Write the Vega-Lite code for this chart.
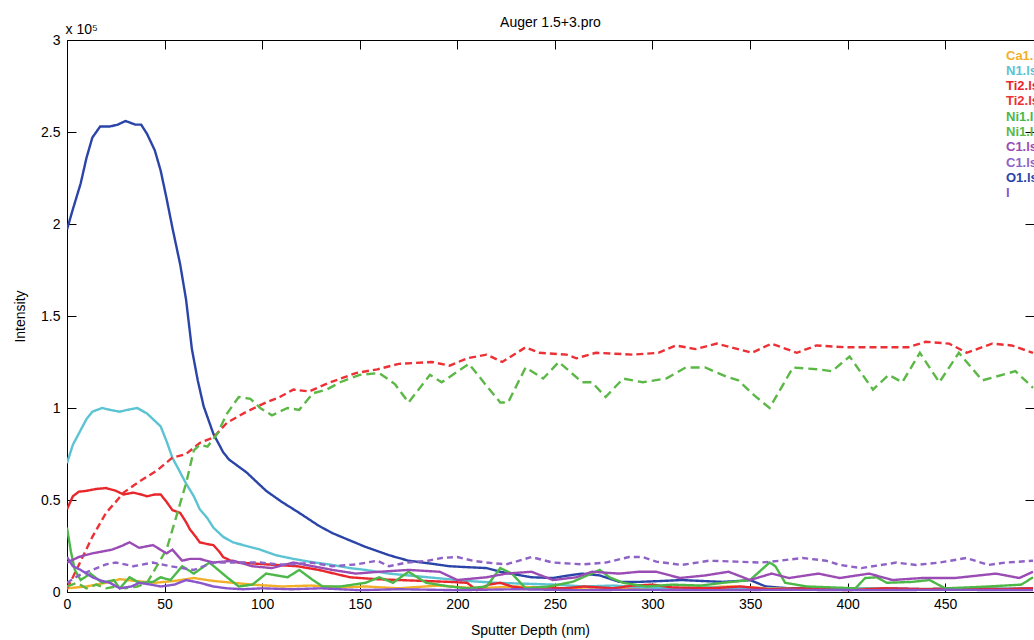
{
  "$schema": "https://vega.github.io/schema/vega-lite/v6.json",
  "autosize": {"type": "none"},
  "padding": {"left": 67, "top": 40, "right": 0, "bottom": 48},
  "width": 967,
  "height": 552,
  "background": "white",
  "config": {
    "font": "Liberation Sans",
    "view": {"stroke": null},
    "axis": {"grid": false, "domainColor": "#000000", "domainWidth": 1, "tickColor": "#000000", "tickWidth": 1, "labelColor": "#000000", "titleColor": "#000000", "labelFont": "Liberation Sans", "titleFont": "Liberation Sans", "labelFontSize": 14, "titleFontSize": 14, "titleFontWeight": "normal"}
  },
  "title": {"text": "Auger 1.5+3.pro", "fontSize": 14, "fontWeight": "normal", "font": "Liberation Sans", "color": "#000000", "offset": 0, "dy": 8, "anchor": "middle"},
  "data": {"values": [
    {"series":"O1.ls1","depth":0,"intensity":197000},{"series":"O1.ls1","depth":3,"intensity":208000},{"series":"O1.ls1","depth":7,"intensity":222000},{"series":"O1.ls1","depth":10,"intensity":236000},{"series":"O1.ls1","depth":13,"intensity":247000},{"series":"O1.ls1","depth":17,"intensity":253000},{"series":"O1.ls1","depth":22,"intensity":253000},{"series":"O1.ls1","depth":26,"intensity":254000},{"series":"O1.ls1","depth":30,"intensity":256000},{"series":"O1.ls1","depth":35,"intensity":254000},{"series":"O1.ls1","depth":38,"intensity":254000},{"series":"O1.ls1","depth":41,"intensity":249000},{"series":"O1.ls1","depth":45,"intensity":240000},{"series":"O1.ls1","depth":48,"intensity":229000},{"series":"O1.ls1","depth":51,"intensity":214000},{"series":"O1.ls1","depth":54,"intensity":198000},{"series":"O1.ls1","depth":58,"intensity":178000},{"series":"O1.ls1","depth":61,"intensity":159000},{"series":"O1.ls1","depth":64,"intensity":132000},{"series":"O1.ls1","depth":67,"intensity":115000},{"series":"O1.ls1","depth":70,"intensity":101000},{"series":"O1.ls1","depth":75,"intensity":86000},{"series":"O1.ls1","depth":80,"intensity":76000},{"series":"O1.ls1","depth":83,"intensity":72000},{"series":"O1.ls1","depth":92,"intensity":65000},{"series":"O1.ls1","depth":102,"intensity":55000},{"series":"O1.ls1","depth":110,"intensity":49000},{"series":"O1.ls1","depth":119,"intensity":43000},{"series":"O1.ls1","depth":129,"intensity":36000},{"series":"O1.ls1","depth":136,"intensity":32000},{"series":"O1.ls1","depth":145,"intensity":28000},{"series":"O1.ls1","depth":153,"intensity":24500},{"series":"O1.ls1","depth":165,"intensity":20000},{"series":"O1.ls1","depth":175,"intensity":17000},{"series":"O1.ls1","depth":186,"intensity":15500},{"series":"O1.ls1","depth":196,"intensity":14000},{"series":"O1.ls1","depth":205,"intensity":13500},{"series":"O1.ls1","depth":215,"intensity":13000},{"series":"O1.ls1","depth":222,"intensity":11000},{"series":"O1.ls1","depth":230,"intensity":9500},{"series":"O1.ls1","depth":238,"intensity":8000},{"series":"O1.ls1","depth":249,"intensity":7600},{"series":"O1.ls1","depth":257,"intensity":9000},{"series":"O1.ls1","depth":264,"intensity":10000},{"series":"O1.ls1","depth":273,"intensity":9000},{"series":"O1.ls1","depth":283,"intensity":5500},{"series":"O1.ls1","depth":293,"intensity":5500},{"series":"O1.ls1","depth":305,"intensity":6000},{"series":"O1.ls1","depth":315,"intensity":6500},{"series":"O1.ls1","depth":325,"intensity":6000},{"series":"O1.ls1","depth":336,"intensity":5500},{"series":"O1.ls1","depth":344,"intensity":6000},{"series":"O1.ls1","depth":350,"intensity":6500},{"series":"O1.ls1","depth":358,"intensity":3000},{"series":"O1.ls1","depth":370,"intensity":2000},{"series":"O1.ls1","depth":385,"intensity":2000},{"series":"O1.ls1","depth":400,"intensity":1800},{"series":"O1.ls1","depth":420,"intensity":2000},{"series":"O1.ls1","depth":440,"intensity":1500},{"series":"O1.ls1","depth":460,"intensity":2000},{"series":"O1.ls1","depth":480,"intensity":1800},{"series":"O1.ls1","depth":495,"intensity":2000},

    {"series":"Ca1.ls1","depth":0,"intensity":2000},{"series":"Ca1.ls1","depth":10,"intensity":3000},{"series":"Ca1.ls1","depth":20,"intensity":5000},{"series":"Ca1.ls1","depth":27,"intensity":7000},{"series":"Ca1.ls1","depth":35,"intensity":6000},{"series":"Ca1.ls1","depth":45,"intensity":5000},{"series":"Ca1.ls1","depth":55,"intensity":6000},{"series":"Ca1.ls1","depth":65,"intensity":7600},{"series":"Ca1.ls1","depth":75,"intensity":6000},{"series":"Ca1.ls1","depth":85,"intensity":5000},{"series":"Ca1.ls1","depth":95,"intensity":4000},{"series":"Ca1.ls1","depth":110,"intensity":3000},{"series":"Ca1.ls1","depth":125,"intensity":3500},{"series":"Ca1.ls1","depth":140,"intensity":2500},{"series":"Ca1.ls1","depth":153,"intensity":3000},{"series":"Ca1.ls1","depth":170,"intensity":2000},{"series":"Ca1.ls1","depth":190,"intensity":3500},{"series":"Ca1.ls1","depth":210,"intensity":2000},{"series":"Ca1.ls1","depth":230,"intensity":3000},{"series":"Ca1.ls1","depth":250,"intensity":2000},{"series":"Ca1.ls1","depth":270,"intensity":2500},{"series":"Ca1.ls1","depth":290,"intensity":1500},{"series":"Ca1.ls1","depth":310,"intensity":2000},{"series":"Ca1.ls1","depth":340,"intensity":3000},{"series":"Ca1.ls1","depth":360,"intensity":2000},{"series":"Ca1.ls1","depth":380,"intensity":1500},{"series":"Ca1.ls1","depth":400,"intensity":2000},{"series":"Ca1.ls1","depth":430,"intensity":1500},{"series":"Ca1.ls1","depth":460,"intensity":2000},{"series":"Ca1.ls1","depth":495,"intensity":1500},

    {"series":"N1.ls1","depth":0,"intensity":70000},{"series":"N1.ls1","depth":3,"intensity":80000},{"series":"N1.ls1","depth":7,"intensity":88000},{"series":"N1.ls1","depth":10,"intensity":94000},{"series":"N1.ls1","depth":13,"intensity":98000},{"series":"N1.ls1","depth":18,"intensity":100000},{"series":"N1.ls1","depth":22,"intensity":99000},{"series":"N1.ls1","depth":27,"intensity":98000},{"series":"N1.ls1","depth":31,"intensity":99000},{"series":"N1.ls1","depth":36,"intensity":100000},{"series":"N1.ls1","depth":41,"intensity":97000},{"series":"N1.ls1","depth":45,"intensity":93000},{"series":"N1.ls1","depth":48,"intensity":90000},{"series":"N1.ls1","depth":51,"intensity":82000},{"series":"N1.ls1","depth":54,"intensity":73000},{"series":"N1.ls1","depth":58,"intensity":65000},{"series":"N1.ls1","depth":61,"intensity":59000},{"series":"N1.ls1","depth":65,"intensity":52000},{"series":"N1.ls1","depth":68,"intensity":45000},{"series":"N1.ls1","depth":72,"intensity":40000},{"series":"N1.ls1","depth":75,"intensity":35000},{"series":"N1.ls1","depth":80,"intensity":30000},{"series":"N1.ls1","depth":85,"intensity":27000},{"series":"N1.ls1","depth":92,"intensity":25000},{"series":"N1.ls1","depth":99,"intensity":23000},{"series":"N1.ls1","depth":107,"intensity":20000},{"series":"N1.ls1","depth":116,"intensity":18000},{"series":"N1.ls1","depth":124,"intensity":16500},{"series":"N1.ls1","depth":136,"intensity":14700},{"series":"N1.ls1","depth":145,"intensity":13000},{"series":"N1.ls1","depth":153,"intensity":12000},{"series":"N1.ls1","depth":165,"intensity":10000},{"series":"N1.ls1","depth":175,"intensity":9000},{"series":"N1.ls1","depth":190,"intensity":7500},{"series":"N1.ls1","depth":205,"intensity":6000},{"series":"N1.ls1","depth":220,"intensity":5000},{"series":"N1.ls1","depth":235,"intensity":4500},{"series":"N1.ls1","depth":250,"intensity":4000},{"series":"N1.ls1","depth":265,"intensity":3000},{"series":"N1.ls1","depth":280,"intensity":3500},{"series":"N1.ls1","depth":295,"intensity":2500},{"series":"N1.ls1","depth":310,"intensity":2000},{"series":"N1.ls1","depth":330,"intensity":2500},{"series":"N1.ls1","depth":350,"intensity":2000},{"series":"N1.ls1","depth":370,"intensity":1500},{"series":"N1.ls1","depth":400,"intensity":2000},{"series":"N1.ls1","depth":430,"intensity":1500},{"series":"N1.ls1","depth":460,"intensity":2000},{"series":"N1.ls1","depth":495,"intensity":1500},

    {"series":"Ti2.ls1","depth":0,"intensity":45000},{"series":"Ti2.ls1","depth":3,"intensity":52000},{"series":"Ti2.ls1","depth":6,"intensity":54500},{"series":"Ti2.ls1","depth":10,"intensity":55000},{"series":"Ti2.ls1","depth":15,"intensity":56000},{"series":"Ti2.ls1","depth":20,"intensity":56500},{"series":"Ti2.ls1","depth":25,"intensity":55000},{"series":"Ti2.ls1","depth":29,"intensity":53000},{"series":"Ti2.ls1","depth":34,"intensity":54000},{"series":"Ti2.ls1","depth":38,"intensity":53000},{"series":"Ti2.ls1","depth":41,"intensity":52000},{"series":"Ti2.ls1","depth":45,"intensity":53000},{"series":"Ti2.ls1","depth":48,"intensity":53000},{"series":"Ti2.ls1","depth":51,"intensity":49000},{"series":"Ti2.ls1","depth":54,"intensity":44500},{"series":"Ti2.ls1","depth":58,"intensity":43000},{"series":"Ti2.ls1","depth":61,"intensity":38000},{"series":"Ti2.ls1","depth":63,"intensity":34000},{"series":"Ti2.ls1","depth":66,"intensity":30000},{"series":"Ti2.ls1","depth":68,"intensity":27000},{"series":"Ti2.ls1","depth":72,"intensity":26000},{"series":"Ti2.ls1","depth":75,"intensity":25500},{"series":"Ti2.ls1","depth":78,"intensity":22000},{"series":"Ti2.ls1","depth":80,"intensity":19000},{"series":"Ti2.ls1","depth":84,"intensity":17000},{"series":"Ti2.ls1","depth":88,"intensity":16000},{"series":"Ti2.ls1","depth":95,"intensity":15500},{"series":"Ti2.ls1","depth":107,"intensity":14700},{"series":"Ti2.ls1","depth":118,"intensity":14000},{"series":"Ti2.ls1","depth":129,"intensity":12000},{"series":"Ti2.ls1","depth":137,"intensity":10000},{"series":"Ti2.ls1","depth":145,"intensity":8000},{"series":"Ti2.ls1","depth":158,"intensity":7000},{"series":"Ti2.ls1","depth":170,"intensity":6500},{"series":"Ti2.ls1","depth":183,"intensity":6000},{"series":"Ti2.ls1","depth":196,"intensity":5500},{"series":"Ti2.ls1","depth":205,"intensity":5000},{"series":"Ti2.ls1","depth":210,"intensity":1000},{"series":"Ti2.ls1","depth":216,"intensity":4000},{"series":"Ti2.ls1","depth":222,"intensity":5000},{"series":"Ti2.ls1","depth":228,"intensity":3000},{"series":"Ti2.ls1","depth":235,"intensity":2000},{"series":"Ti2.ls1","depth":245,"intensity":2500},{"series":"Ti2.ls1","depth":255,"intensity":2000},{"series":"Ti2.ls1","depth":265,"intensity":3000},{"series":"Ti2.ls1","depth":280,"intensity":2000},{"series":"Ti2.ls1","depth":290,"intensity":3500},{"series":"Ti2.ls1","depth":300,"intensity":4000},{"series":"Ti2.ls1","depth":310,"intensity":2500},{"series":"Ti2.ls1","depth":330,"intensity":2000},{"series":"Ti2.ls1","depth":345,"intensity":3000},{"series":"Ti2.ls1","depth":360,"intensity":1500},{"series":"Ti2.ls1","depth":380,"intensity":2000},{"series":"Ti2.ls1","depth":400,"intensity":1000},{"series":"Ti2.ls1","depth":420,"intensity":2000},{"series":"Ti2.ls1","depth":440,"intensity":1500},{"series":"Ti2.ls1","depth":460,"intensity":2000},{"series":"Ti2.ls1","depth":480,"intensity":1500},{"series":"Ti2.ls1","depth":495,"intensity":2000},

    {"series":"Ti2.ls2","depth":0,"intensity":2000},{"series":"Ti2.ls2","depth":3,"intensity":8000},{"series":"Ti2.ls2","depth":8,"intensity":19000},{"series":"Ti2.ls2","depth":13,"intensity":30000},{"series":"Ti2.ls2","depth":20,"intensity":43000},{"series":"Ti2.ls2","depth":25,"intensity":49000},{"series":"Ti2.ls2","depth":29,"intensity":54000},{"series":"Ti2.ls2","depth":37,"intensity":60000},{"series":"Ti2.ls2","depth":46,"intensity":66000},{"series":"Ti2.ls2","depth":54,"intensity":73000},{"series":"Ti2.ls2","depth":61,"intensity":75000},{"series":"Ti2.ls2","depth":68,"intensity":81000},{"series":"Ti2.ls2","depth":75,"intensity":84000},{"series":"Ti2.ls2","depth":82,"intensity":92000},{"series":"Ti2.ls2","depth":92,"intensity":98000},{"series":"Ti2.ls2","depth":102,"intensity":103000},{"series":"Ti2.ls2","depth":109,"intensity":106000},{"series":"Ti2.ls2","depth":116,"intensity":110000},{"series":"Ti2.ls2","depth":124,"intensity":109000},{"series":"Ti2.ls2","depth":135,"intensity":114000},{"series":"Ti2.ls2","depth":148,"intensity":119000},{"series":"Ti2.ls2","depth":159,"intensity":121000},{"series":"Ti2.ls2","depth":170,"intensity":124000},{"series":"Ti2.ls2","depth":187,"intensity":125000},{"series":"Ti2.ls2","depth":196,"intensity":123000},{"series":"Ti2.ls2","depth":205,"intensity":127000},{"series":"Ti2.ls2","depth":215,"intensity":129000},{"series":"Ti2.ls2","depth":223,"intensity":125000},{"series":"Ti2.ls2","depth":235,"intensity":133000},{"series":"Ti2.ls2","depth":242,"intensity":130000},{"series":"Ti2.ls2","depth":256,"intensity":129000},{"series":"Ti2.ls2","depth":261,"intensity":127000},{"series":"Ti2.ls2","depth":271,"intensity":130000},{"series":"Ti2.ls2","depth":290,"intensity":129000},{"series":"Ti2.ls2","depth":303,"intensity":130000},{"series":"Ti2.ls2","depth":312,"intensity":134000},{"series":"Ti2.ls2","depth":322,"intensity":132000},{"series":"Ti2.ls2","depth":333,"intensity":135000},{"series":"Ti2.ls2","depth":351,"intensity":130000},{"series":"Ti2.ls2","depth":361,"intensity":135000},{"series":"Ti2.ls2","depth":374,"intensity":130000},{"series":"Ti2.ls2","depth":384,"intensity":134000},{"series":"Ti2.ls2","depth":399,"intensity":133000},{"series":"Ti2.ls2","depth":415,"intensity":133000},{"series":"Ti2.ls2","depth":431,"intensity":133000},{"series":"Ti2.ls2","depth":440,"intensity":136000},{"series":"Ti2.ls2","depth":452,"intensity":135000},{"series":"Ti2.ls2","depth":461,"intensity":130000},{"series":"Ti2.ls2","depth":474,"intensity":135000},{"series":"Ti2.ls2","depth":484,"intensity":134000},{"series":"Ti2.ls2","depth":495,"intensity":130000},

    {"series":"Ni1.ls1","depth":0,"intensity":35000},{"series":"Ni1.ls1","depth":2,"intensity":22000},{"series":"Ni1.ls1","depth":4,"intensity":12000},{"series":"Ni1.ls1","depth":7,"intensity":6500},{"series":"Ni1.ls1","depth":12,"intensity":10000},{"series":"Ni1.ls1","depth":18,"intensity":5000},{"series":"Ni1.ls1","depth":24,"intensity":6500},{"series":"Ni1.ls1","depth":27,"intensity":2000},{"series":"Ni1.ls1","depth":32,"intensity":8000},{"series":"Ni1.ls1","depth":37,"intensity":5000},{"series":"Ni1.ls1","depth":44,"intensity":5500},{"series":"Ni1.ls1","depth":48,"intensity":8000},{"series":"Ni1.ls1","depth":53,"intensity":6500},{"series":"Ni1.ls1","depth":59,"intensity":14000},{"series":"Ni1.ls1","depth":65,"intensity":10000},{"series":"Ni1.ls1","depth":73,"intensity":16000},{"series":"Ni1.ls1","depth":82,"intensity":8000},{"series":"Ni1.ls1","depth":88,"intensity":3000},{"series":"Ni1.ls1","depth":95,"intensity":4000},{"series":"Ni1.ls1","depth":102,"intensity":10000},{"series":"Ni1.ls1","depth":113,"intensity":8000},{"series":"Ni1.ls1","depth":119,"intensity":12000},{"series":"Ni1.ls1","depth":126,"intensity":6500},{"series":"Ni1.ls1","depth":131,"intensity":3000},{"series":"Ni1.ls1","depth":140,"intensity":3000},{"series":"Ni1.ls1","depth":153,"intensity":5000},{"series":"Ni1.ls1","depth":160,"intensity":8000},{"series":"Ni1.ls1","depth":167,"intensity":5000},{"series":"Ni1.ls1","depth":175,"intensity":11000},{"series":"Ni1.ls1","depth":184,"intensity":5000},{"series":"Ni1.ls1","depth":196,"intensity":3000},{"series":"Ni1.ls1","depth":205,"intensity":2000},{"series":"Ni1.ls1","depth":215,"intensity":3000},{"series":"Ni1.ls1","depth":222,"intensity":13000},{"series":"Ni1.ls1","depth":228,"intensity":10000},{"series":"Ni1.ls1","depth":235,"intensity":2000},{"series":"Ni1.ls1","depth":247,"intensity":3000},{"series":"Ni1.ls1","depth":259,"intensity":5500},{"series":"Ni1.ls1","depth":273,"intensity":12000},{"series":"Ni1.ls1","depth":278,"intensity":8000},{"series":"Ni1.ls1","depth":285,"intensity":5000},{"series":"Ni1.ls1","depth":297,"intensity":3000},{"series":"Ni1.ls1","depth":310,"intensity":4000},{"series":"Ni1.ls1","depth":325,"intensity":3500},{"series":"Ni1.ls1","depth":336,"intensity":5000},{"series":"Ni1.ls1","depth":350,"intensity":6500},{"series":"Ni1.ls1","depth":360,"intensity":16000},{"series":"Ni1.ls1","depth":363,"intensity":14000},{"series":"Ni1.ls1","depth":368,"intensity":5000},{"series":"Ni1.ls1","depth":379,"intensity":3000},{"series":"Ni1.ls1","depth":392,"intensity":2500},{"series":"Ni1.ls1","depth":404,"intensity":2000},{"series":"Ni1.ls1","depth":409,"intensity":7600},{"series":"Ni1.ls1","depth":415,"intensity":8000},{"series":"Ni1.ls1","depth":420,"intensity":5000},{"series":"Ni1.ls1","depth":433,"intensity":5500},{"series":"Ni1.ls1","depth":442,"intensity":6500},{"series":"Ni1.ls1","depth":450,"intensity":2000},{"series":"Ni1.ls1","depth":462,"intensity":2500},{"series":"Ni1.ls1","depth":472,"intensity":3000},{"series":"Ni1.ls1","depth":489,"intensity":4000},{"series":"Ni1.ls1","depth":495,"intensity":8000},

    {"series":"Ni1.ls2","depth":0,"intensity":3000},{"series":"Ni1.ls2","depth":5,"intensity":5000},{"series":"Ni1.ls2","depth":10,"intensity":2000},{"series":"Ni1.ls2","depth":15,"intensity":4000},{"series":"Ni1.ls2","depth":20,"intensity":2000},{"series":"Ni1.ls2","depth":25,"intensity":3000},{"series":"Ni1.ls2","depth":30,"intensity":2000},{"series":"Ni1.ls2","depth":36,"intensity":3000},{"series":"Ni1.ls2","depth":41,"intensity":5000},{"series":"Ni1.ls2","depth":46,"intensity":14000},{"series":"Ni1.ls2","depth":51,"intensity":23000},{"series":"Ni1.ls2","depth":56,"intensity":41000},{"series":"Ni1.ls2","depth":61,"intensity":59000},{"series":"Ni1.ls2","depth":65,"intensity":77000},{"series":"Ni1.ls2","depth":68,"intensity":80000},{"series":"Ni1.ls2","depth":72,"intensity":79000},{"series":"Ni1.ls2","depth":77,"intensity":86000},{"series":"Ni1.ls2","depth":82,"intensity":97000},{"series":"Ni1.ls2","depth":88,"intensity":106000},{"series":"Ni1.ls2","depth":94,"intensity":105000},{"series":"Ni1.ls2","depth":99,"intensity":100000},{"series":"Ni1.ls2","depth":105,"intensity":96000},{"series":"Ni1.ls2","depth":113,"intensity":100000},{"series":"Ni1.ls2","depth":119,"intensity":99000},{"series":"Ni1.ls2","depth":126,"intensity":108000},{"series":"Ni1.ls2","depth":133,"intensity":110000},{"series":"Ni1.ls2","depth":140,"intensity":114000},{"series":"Ni1.ls2","depth":150,"intensity":118000},{"series":"Ni1.ls2","depth":160,"intensity":119000},{"series":"Ni1.ls2","depth":168,"intensity":113000},{"series":"Ni1.ls2","depth":175,"intensity":103000},{"series":"Ni1.ls2","depth":186,"intensity":118000},{"series":"Ni1.ls2","depth":192,"intensity":114000},{"series":"Ni1.ls2","depth":206,"intensity":124000},{"series":"Ni1.ls2","depth":215,"intensity":112000},{"series":"Ni1.ls2","depth":222,"intensity":103000},{"series":"Ni1.ls2","depth":226,"intensity":103000},{"series":"Ni1.ls2","depth":235,"intensity":122000},{"series":"Ni1.ls2","depth":244,"intensity":116000},{"series":"Ni1.ls2","depth":252,"intensity":125000},{"series":"Ni1.ls2","depth":264,"intensity":114000},{"series":"Ni1.ls2","depth":269,"intensity":114000},{"series":"Ni1.ls2","depth":276,"intensity":106000},{"series":"Ni1.ls2","depth":285,"intensity":116000},{"series":"Ni1.ls2","depth":295,"intensity":114000},{"series":"Ni1.ls2","depth":307,"intensity":116000},{"series":"Ni1.ls2","depth":317,"intensity":122000},{"series":"Ni1.ls2","depth":327,"intensity":122000},{"series":"Ni1.ls2","depth":338,"intensity":117000},{"series":"Ni1.ls2","depth":344,"intensity":115000},{"series":"Ni1.ls2","depth":352,"intensity":107000},{"series":"Ni1.ls2","depth":360,"intensity":100000},{"series":"Ni1.ls2","depth":372,"intensity":122000},{"series":"Ni1.ls2","depth":385,"intensity":121000},{"series":"Ni1.ls2","depth":392,"intensity":120000},{"series":"Ni1.ls2","depth":401,"intensity":128000},{"series":"Ni1.ls2","depth":413,"intensity":110000},{"series":"Ni1.ls2","depth":421,"intensity":118000},{"series":"Ni1.ls2","depth":428,"intensity":114000},{"series":"Ni1.ls2","depth":437,"intensity":130000},{"series":"Ni1.ls2","depth":447,"intensity":114000},{"series":"Ni1.ls2","depth":457,"intensity":130000},{"series":"Ni1.ls2","depth":469,"intensity":115000},{"series":"Ni1.ls2","depth":486,"intensity":120000},{"series":"Ni1.ls2","depth":495,"intensity":111000},

    {"series":"C1.ls1","depth":0,"intensity":16000},{"series":"C1.ls1","depth":6,"intensity":19000},{"series":"C1.ls1","depth":13,"intensity":21000},{"series":"C1.ls1","depth":18,"intensity":22000},{"series":"C1.ls1","depth":23,"intensity":23000},{"series":"C1.ls1","depth":28,"intensity":25000},{"series":"C1.ls1","depth":32,"intensity":27000},{"series":"C1.ls1","depth":37,"intensity":24000},{"series":"C1.ls1","depth":44,"intensity":25500},{"series":"C1.ls1","depth":51,"intensity":21000},{"series":"C1.ls1","depth":54,"intensity":23000},{"series":"C1.ls1","depth":59,"intensity":17000},{"series":"C1.ls1","depth":63,"intensity":18000},{"series":"C1.ls1","depth":68,"intensity":18000},{"series":"C1.ls1","depth":75,"intensity":16000},{"series":"C1.ls1","depth":85,"intensity":17000},{"series":"C1.ls1","depth":95,"intensity":14000},{"series":"C1.ls1","depth":105,"intensity":13000},{"series":"C1.ls1","depth":116,"intensity":16000},{"series":"C1.ls1","depth":126,"intensity":14000},{"series":"C1.ls1","depth":136,"intensity":12000},{"series":"C1.ls1","depth":148,"intensity":10000},{"series":"C1.ls1","depth":160,"intensity":11000},{"series":"C1.ls1","depth":175,"intensity":12000},{"series":"C1.ls1","depth":191,"intensity":11000},{"series":"C1.ls1","depth":200,"intensity":6500},{"series":"C1.ls1","depth":215,"intensity":8000},{"series":"C1.ls1","depth":225,"intensity":10000},{"series":"C1.ls1","depth":238,"intensity":11000},{"series":"C1.ls1","depth":249,"intensity":6500},{"series":"C1.ls1","depth":261,"intensity":8000},{"series":"C1.ls1","depth":269,"intensity":11000},{"series":"C1.ls1","depth":283,"intensity":10000},{"series":"C1.ls1","depth":293,"intensity":11000},{"series":"C1.ls1","depth":302,"intensity":11000},{"series":"C1.ls1","depth":314,"intensity":7600},{"series":"C1.ls1","depth":327,"intensity":9000},{"series":"C1.ls1","depth":339,"intensity":11000},{"series":"C1.ls1","depth":350,"intensity":6500},{"series":"C1.ls1","depth":361,"intensity":10000},{"series":"C1.ls1","depth":370,"intensity":7600},{"series":"C1.ls1","depth":385,"intensity":10000},{"series":"C1.ls1","depth":396,"intensity":7600},{"series":"C1.ls1","depth":411,"intensity":10000},{"series":"C1.ls1","depth":423,"intensity":6500},{"series":"C1.ls1","depth":438,"intensity":7600},{"series":"C1.ls1","depth":455,"intensity":7600},{"series":"C1.ls1","depth":476,"intensity":10000},{"series":"C1.ls1","depth":488,"intensity":7600},{"series":"C1.ls1","depth":495,"intensity":11000},

    {"series":"C1.ls2","depth":0,"intensity":5000},{"series":"C1.ls2","depth":6,"intensity":9000},{"series":"C1.ls2","depth":13,"intensity":12000},{"series":"C1.ls2","depth":20,"intensity":15000},{"series":"C1.ls2","depth":25,"intensity":16000},{"series":"C1.ls2","depth":34,"intensity":14000},{"series":"C1.ls2","depth":44,"intensity":16000},{"series":"C1.ls2","depth":53,"intensity":14000},{"series":"C1.ls2","depth":65,"intensity":12000},{"series":"C1.ls2","depth":75,"intensity":16000},{"series":"C1.ls2","depth":85,"intensity":16000},{"series":"C1.ls2","depth":99,"intensity":16000},{"series":"C1.ls2","depth":108,"intensity":15000},{"series":"C1.ls2","depth":116,"intensity":15000},{"series":"C1.ls2","depth":125,"intensity":16000},{"series":"C1.ls2","depth":136,"intensity":14000},{"series":"C1.ls2","depth":148,"intensity":15000},{"series":"C1.ls2","depth":159,"intensity":17000},{"series":"C1.ls2","depth":165,"intensity":14000},{"series":"C1.ls2","depth":174,"intensity":16000},{"series":"C1.ls2","depth":185,"intensity":17000},{"series":"C1.ls2","depth":192,"intensity":18500},{"series":"C1.ls2","depth":200,"intensity":19000},{"series":"C1.ls2","depth":208,"intensity":17000},{"series":"C1.ls2","depth":215,"intensity":16000},{"series":"C1.ls2","depth":225,"intensity":15000},{"series":"C1.ls2","depth":238,"intensity":19000},{"series":"C1.ls2","depth":249,"intensity":16000},{"series":"C1.ls2","depth":264,"intensity":15000},{"series":"C1.ls2","depth":276,"intensity":16000},{"series":"C1.ls2","depth":288,"intensity":19000},{"series":"C1.ls2","depth":295,"intensity":19000},{"series":"C1.ls2","depth":302,"intensity":16500},{"series":"C1.ls2","depth":315,"intensity":14700},{"series":"C1.ls2","depth":329,"intensity":17000},{"series":"C1.ls2","depth":343,"intensity":16500},{"series":"C1.ls2","depth":355,"intensity":16000},{"series":"C1.ls2","depth":361,"intensity":16500},{"series":"C1.ls2","depth":377,"intensity":18500},{"series":"C1.ls2","depth":389,"intensity":17000},{"series":"C1.ls2","depth":396,"intensity":14700},{"series":"C1.ls2","depth":407,"intensity":13000},{"series":"C1.ls2","depth":425,"intensity":16000},{"series":"C1.ls2","depth":435,"intensity":14700},{"series":"C1.ls2","depth":447,"intensity":16000},{"series":"C1.ls2","depth":461,"intensity":18500},{"series":"C1.ls2","depth":472,"intensity":14700},{"series":"C1.ls2","depth":481,"intensity":16000},{"series":"C1.ls2","depth":495,"intensity":17000},

    {"series":"I","depth":0,"intensity":19000},{"series":"I","depth":3,"intensity":14000},{"series":"I","depth":7,"intensity":12000},{"series":"I","depth":13,"intensity":8000},{"series":"I","depth":18,"intensity":6000},{"series":"I","depth":22,"intensity":5000},{"series":"I","depth":27,"intensity":2000},{"series":"I","depth":33,"intensity":3000},{"series":"I","depth":37,"intensity":5000},{"series":"I","depth":43,"intensity":4000},{"series":"I","depth":48,"intensity":3000},{"series":"I","depth":55,"intensity":4000},{"series":"I","depth":61,"intensity":6500},{"series":"I","depth":68,"intensity":5000},{"series":"I","depth":75,"intensity":3000},{"series":"I","depth":82,"intensity":2000},{"series":"I","depth":90,"intensity":1500},{"series":"I","depth":100,"intensity":2000},{"series":"I","depth":115,"intensity":1500},{"series":"I","depth":130,"intensity":2000},{"series":"I","depth":150,"intensity":1000},{"series":"I","depth":170,"intensity":1500},{"series":"I","depth":200,"intensity":1000},{"series":"I","depth":230,"intensity":1500},{"series":"I","depth":260,"intensity":1000},{"series":"I","depth":290,"intensity":1200},{"series":"I","depth":330,"intensity":1000},{"series":"I","depth":370,"intensity":1200},{"series":"I","depth":410,"intensity":1000},{"series":"I","depth":450,"intensity":1200},{"series":"I","depth":495,"intensity":1000}
  ]},
  "layer": [
    {
      "mark": {"type": "line", "strokeWidth": 2.4, "clip": true},
      "encoding": {
        "x": {"field": "depth", "type": "quantitative", "scale": {"domain": [0, 495.5], "nice": false, "zero": false},
              "axis": {"orient": "bottom", "values": [0,50,100,150,200,250,300,350,400,450], "tickSize": -9, "labelPadding": 14, "labelFlush": false, "title": "Sputter Depth (nm)", "titleX": 463, "titleY": 38, "titleBaseline": "middle", "titleAlign": "center"}},
        "y": {"field": "intensity", "type": "quantitative", "scale": {"domain": [0, 300000], "nice": false},
              "axis": {"orient": "left", "values": [0,50000,100000,150000,200000,250000,300000], "tickSize": -9, "labelPadding": 16, "labelFlush": false, "labelExpr": "format(datum.value/100000, '~g')", "title": "Intensity", "titleX": -47, "titleY": 276, "titleAngle": -90, "titleAlign": "center", "titleBaseline": "middle"}},
        "color": {"field": "series", "type": "nominal",
                  "scale": {"domain": ["Ca1.ls1","N1.ls1","Ti2.ls1","Ti2.ls2","Ni1.ls1","Ni1.ls2","C1.ls1","C1.ls2","O1.ls1","I"],
                            "range": ["#f2b02a","#5cc3d3","#e8262b","#ec3035","#4cb848","#5cb846","#9a4cb4","#8f62c6","#2b44a8","#8a56cc"]},
                  "legend": {"orient": "none", "legendX": 926, "legendY": 9, "title": null, "symbolSize": 0, "symbolOpacity": 0, "symbolStrokeWidth": 0, "labelOffset": 0, "padding": 0, "rowPadding": 1.3, "labelFontSize": 13, "labelFontWeight": "bold", "labelFont": "Liberation Sans",
                             "encode": {"labels": {"update": {"fill": {"scale": "color", "field": "value"}}}}}},
        "strokeDash": {"field": "series", "type": "nominal",
                  "scale": {"domain": ["Ca1.ls1","N1.ls1","Ti2.ls1","Ti2.ls2","Ni1.ls1","Ni1.ls2","C1.ls1","C1.ls2","O1.ls1","I"],
                            "range": [[1,0],[1,0],[1,0],[7,4],[1,0],[9,5],[1,0],[6,4],[1,0],[1,0]]},
                  "legend": null}
      }
    },
    {
      "mark": {"type": "line", "opacity": 0},
      "encoding": {
        "x": {"field": "depth", "type": "quantitative", "axis": {"orient": "top", "values": [0,50,100,150,200,250,300,350,400,450], "tickSize": -9, "labels": false, "title": "x 10⁵", "titleX": -2, "titleY": -4, "titleAlign": "left", "titleBaseline": "bottom", "titleFontSize": 14}},
        "y": {"field": "intensity", "type": "quantitative", "axis": {"orient": "right", "values": [0,50000,100000,150000,200000,250000,300000], "tickSize": -9, "labels": false, "title": null}},
        "detail": {"field": "series"}
      }
    }
  ],
  "resolve": {"axis": {"x": "independent", "y": "independent"}}
}
